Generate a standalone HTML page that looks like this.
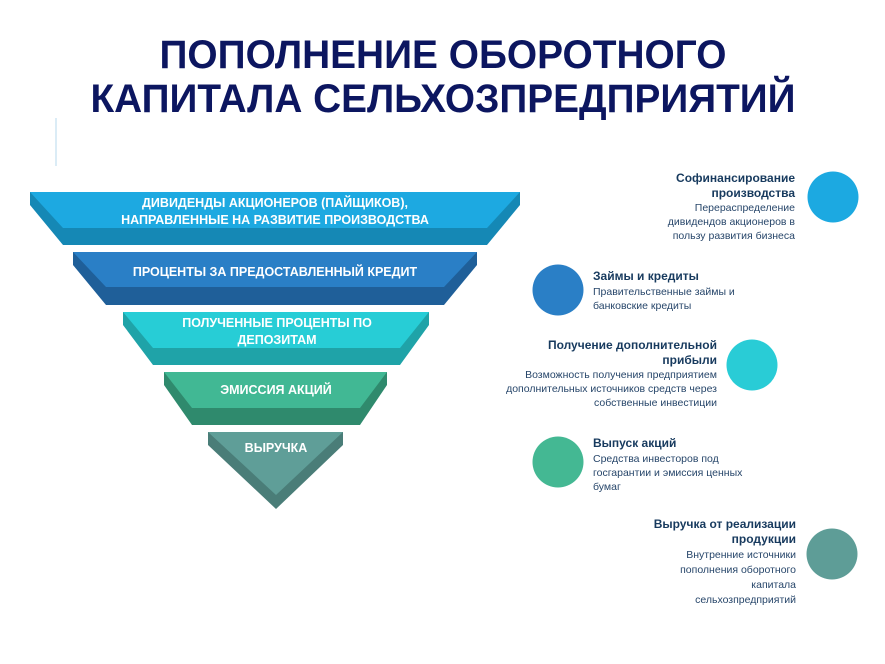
<!DOCTYPE html>
<html><head><meta charset="utf-8"><style>
html,body{margin:0;padding:0;background:#fff;}
svg{display:block;font-family:"Liberation Sans","DejaVu Sans",sans-serif;}
.f{fill:#fff;font-weight:bold;font-size:12.5px;text-anchor:middle;}
.h{fill:#173a5e;font-weight:bold;font-size:12px;}
.d{fill:#27466a;font-size:10.5px;}
.r{text-anchor:end;}
</style></head><body>
<svg width="885" height="664" viewBox="0 0 885 664">
<rect width="885" height="664" fill="#fff"/>
<line x1="56" y1="118" x2="56" y2="166" stroke="#cfe6f3" stroke-width="1.5"/>
<text x="443" y="68" textLength="567" lengthAdjust="spacingAndGlyphs" font-size="40" font-weight="bold" fill="#0c1660" text-anchor="middle">ПОПОЛНЕНИЕ ОБОРОТНОГО</text>
<text x="443" y="112" textLength="705" lengthAdjust="spacingAndGlyphs" font-size="40" font-weight="bold" fill="#0c1660" text-anchor="middle">КАПИТАЛА СЕЛЬХОЗПРЕДПРИЯТИЙ</text>

<polygon points="30,192 520,192 520,205 487,245 63,245 30,205" fill="#1588b5"/>
<polygon points="30,192 520,192 487,228 63,228" fill="#1da9e1"/>
<text class="f" x="275" y="207">ДИВИДЕНДЫ АКЦИОНЕРОВ (ПАЙЩИКОВ),</text>
<text class="f" x="275" y="224">НАПРАВЛЕННЫЕ НА РАЗВИТИЕ ПРОИЗВОДСТВА</text>
<polygon points="73,252 477,252 477,265 444,305 106,305 73,265" fill="#1f5f99"/>
<polygon points="73,252 477,252 444,287 106,287" fill="#2a7fc6"/>
<text class="f" x="275" y="276">ПРОЦЕНТЫ ЗА ПРЕДОСТАВЛЕННЫЙ КРЕДИТ</text>
<polygon points="123,312 429,312 429,325 400,365 153,365 123,325" fill="#1fa3a8"/>
<polygon points="123,312 429,312 400,348 153,348" fill="#27cdd6"/>
<text class="f" x="277" y="327">ПОЛУЧЕННЫЕ ПРОЦЕНТЫ ПО</text>
<text class="f" x="277" y="344">ДЕПОЗИТАМ</text>
<polygon points="164,372 387,372 387,385 360,425 192,425 164,385" fill="#2f8a6d"/>
<polygon points="164,372 387,372 360,408 192,408" fill="#41b894"/>
<text class="f" x="276" y="394">ЭМИССИЯ АКЦИЙ</text>
<polygon points="208,432 343,432 343,445 276,509 208,445" fill="#4a7d78"/>
<polygon points="208,432 343,432 276,495" fill="#5f9e98"/>
<text class="f" x="276" y="452">ВЫРУЧКА</text>

<circle cx="833" cy="197" r="25.5" fill="#1ca9e1"/>
<circle cx="558" cy="290" r="25.5" fill="#2a7fc6"/>
<circle cx="752" cy="365" r="25.5" fill="#29ccd6"/>
<circle cx="558" cy="462" r="25.5" fill="#44b893"/>
<circle cx="832" cy="554" r="25.5" fill="#5e9d97"/>

<text class="h r" x="795" y="182">Софинансирование</text>
<text class="h r" x="795" y="197">производства</text>
<text class="d r" x="795" y="211">Перераспределение</text>
<text class="d r" x="795" y="225">дивидендов акционеров в</text>
<text class="d r" x="795" y="239">пользу развития бизнеса</text>
<text class="h" x="593" y="280">Займы и кредиты</text>
<text class="d" x="593" y="295">Правительственные займы и</text>
<text class="d" x="593" y="309">банковские кредиты</text>
<text class="h r" x="717" y="349">Получение дополнительной</text>
<text class="h r" x="717" y="364">прибыли</text>
<text class="d r" x="717" y="378">Возможность получения предприятием</text>
<text class="d r" x="717" y="392">дополнительных источников средств через</text>
<text class="d r" x="717" y="406">собственные инвестиции</text>
<text class="h" x="593" y="447">Выпуск акций</text>
<text class="d" x="593" y="462">Средства инвесторов под</text>
<text class="d" x="593" y="476">госгарантии и эмиссия ценных</text>
<text class="d" x="593" y="490">бумаг</text>
<text class="h r" x="796" y="528">Выручка от реализации</text>
<text class="h r" x="796" y="543">продукции</text>
<text class="d r" x="796" y="558">Внутренние источники</text>
<text class="d r" x="796" y="573">пополнения оборотного</text>
<text class="d r" x="796" y="588">капитала</text>
<text class="d r" x="796" y="603">сельхозпредприятий</text>
</svg>
</body></html>
